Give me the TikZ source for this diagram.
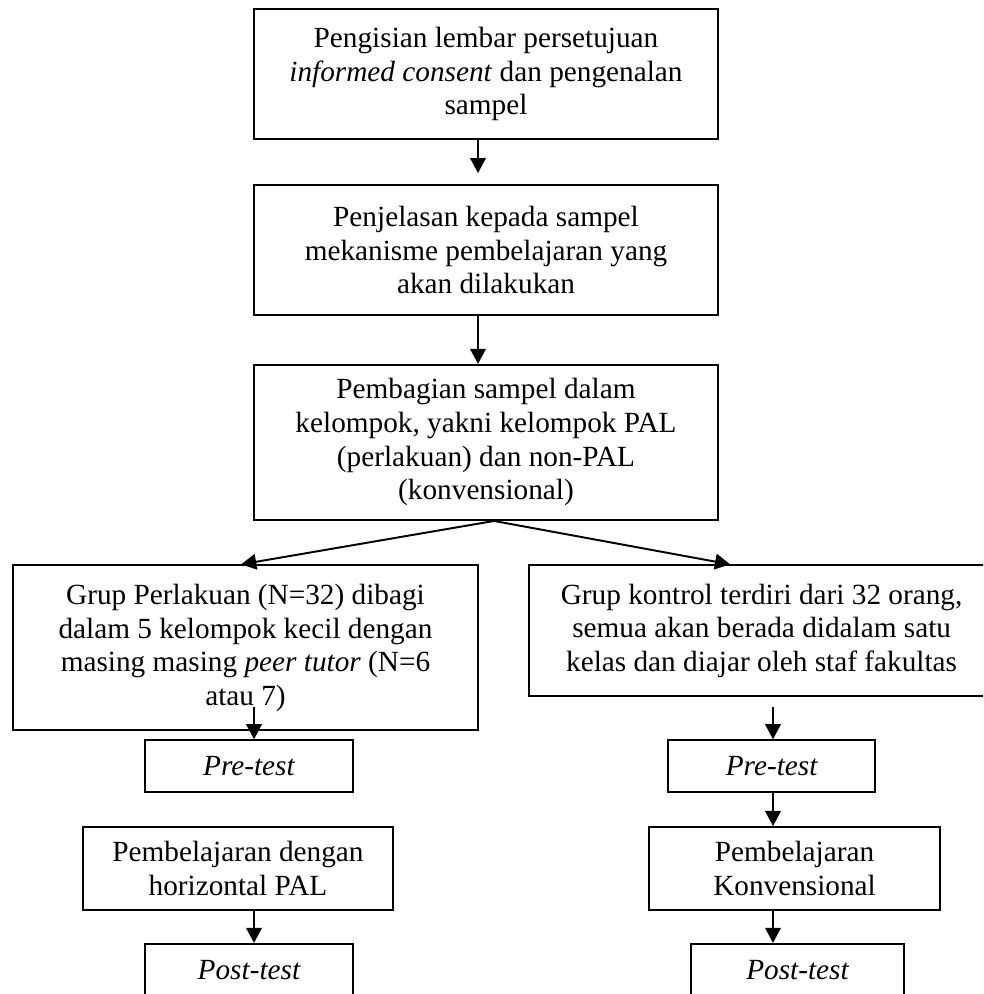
\documentclass[tikz,border=0pt]{standalone}
\usepackage{fontspec}
\setmainfont{Liberation Serif}
\usepackage{tikz}
\usetikzlibrary{arrows.meta,positioning}
\tikzstyle{link} = [draw, line width=0.8pt, -{Triangle[length=6.2pt,width=6.4pt]}]

\begin{document}
\begin{tikzpicture}
	[x=0.41pt, y=-0.41pt, font=\fontsize{12}{13.8}\selectfont,
	% STYLES
	% The stage style is used for the text boxes of the flow
	stage/.style={rectangle, draw, line width=0.8pt, inner sep=0pt, align=center, minimum width=190.2pt},
	% The testbox style is used for the small pre/post test boxes
	testbox/.style={rectangle, draw, line width=0.8pt, inner sep=0pt, minimum height=21.3pt, font=\fontsize{12}{13.8}\selectfont\itshape}]
	
	\path[use as bounding box, clip] (0,0) rectangle (983,994);
	
	% main column
	\node [stage, minimum height=53.3pt] (Consent) at (486,74) {Pengisian lembar persetujuan\\\textit{informed consent} dan pengenalan\\sampel};
	\node [stage, minimum height=53.3pt, below = 18.1pt of Consent] (Explain) {Penjelasan kepada sampel\\mekanisme pembelajaran yang\\akan dilakukan};
	\node [stage, minimum height=63.6pt, below = 19.6pt of Explain] (Divide) {Pembagian sampel dalam\\kelompok, yakni kelompok PAL\\(perlakuan) dan non-PAL\\(konvensional)};
	%left
	\node [stage, minimum width=190.7pt, minimum height=67.7pt, below = 17.8pt of Divide, xshift=-98.6pt] (Treat) {Grup Perlakuan (N=32) dibagi\\dalam 5 kelompok kecil dengan\\masing masing \textit{peer tutor} (N=6\\atau 7)};
	\node [testbox, minimum width=85.3pt, below = 3.2pt of Treat, xshift=1.4pt] (PreL) {Pre-test};
	\node [stage, minimum width=127.1pt, minimum height=34pt, below = 13.5pt of PreL, xshift=-4.5pt] (LearnL) {Pembelajaran dengan\\horizontal PAL};
	\node [testbox, minimum width=85.3pt, below = 13.1pt of LearnL, xshift=4.5pt] (PostL) {Post-test};
	%right
	\node [stage, minimum width=190.7pt, minimum height=53.7pt, below = 17.8pt of Divide, xshift=113pt] (Control) {Grup kontrol terdiri dari 32 orang,\\semua akan berada didalam satu\\kelas dan diajar oleh staf fakultas};
	\node [testbox, minimum width=84.9pt, below = 17.2pt of Control, xshift=4.1pt] (PreR) {Pre-test};
	\node [stage, minimum width=119.3pt, minimum height=34pt, below = 13.5pt of PreR, xshift=9.4pt] (LearnR) {Pembelajaran\\Konvensional};
	\node [testbox, minimum width=87.3pt, below = 13.1pt of LearnR, xshift=1.2pt] (PostR) {Post-test};
	
	% columns of the arrows
	\coordinate (mainx) at (478,0);
	\coordinate (tailL) at (254,707);
	\coordinate (tailR) at (773,707);
	
	% Draw the links of the flow
	\path[link, shorten >=4.5pt] (Consent.south -| mainx) -- (Explain.north -| mainx);
	\path[link] (Explain.south -| mainx) -- (Divide.north -| mainx);
	\path[link] ([xshift=3.3pt]Divide.south) -- ([xshift=-1.8pt]Treat.north);
	\path[link] ([xshift=3.3pt]Divide.south) -- ([xshift=-12.9pt]Control.north);
	% left and right branch
	\path[link] (tailL) -- (PreL.north -| tailL);
	\path[link] (LearnL.south -| tailL) -- (PostL.north -| tailL);
	\path[link] (tailR) -- (PreR.north -| tailR);
	\path[link] (PreR.south -| tailR) -- (LearnR.north -| tailR);
	\path[link] (LearnR.south -| tailR) -- (PostR.north -| tailR);
	
\end{tikzpicture}
\end{document}
